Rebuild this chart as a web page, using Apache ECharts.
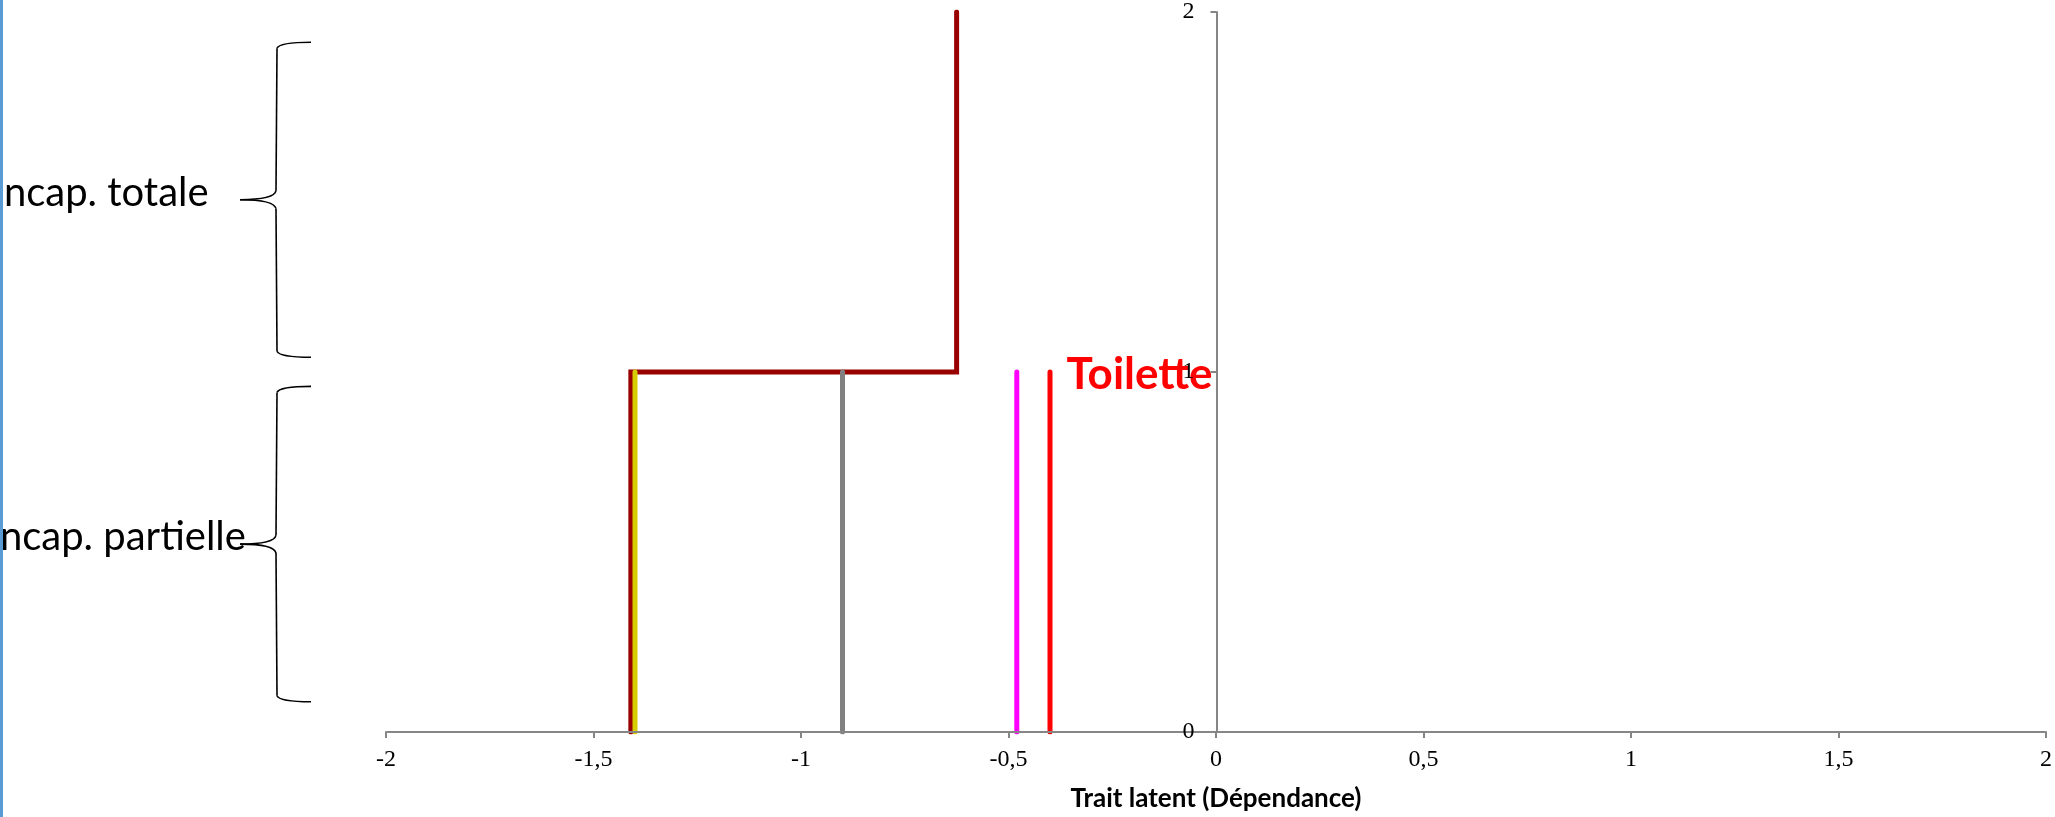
<!DOCTYPE html>
<html>
<head>
<meta charset="utf-8">
<script src="https://cdn.jsdelivr.net/npm/echarts@6/dist/echarts.min.js"></script>
<style>
  html, body { margin: 0; padding: 0; background: #fff; }
  #chart { width: 2055px; height: 817px; }
</style>
</head>
<body>
<div id="chart"></div>
<script>
// Step curve of the dependence scale (threshold path)
const stepX = [-1.41, -1.41, -0.625, -0.625];
const stepY = [0, 1, 1, 2];

// Item thresholds drawn as vertical bars from 0 to 1
const thresholdX = [-1.40, -0.90, -0.48, -0.40];
const thresholdTop = [1, 1, 1, 1];
const thresholdLabels = ['', '', '', 'Toilette'];
const thresholdColors = ['#D6CE00', '#808080', '#FF00FF', '#FF0000'];

// Axis tick labels
const xTickLabels = ['-2', '-1,5', '-1', '-0,5', '0', '0,5', '1', '1,5', '2'];
const yTickLabels = ['0', '1', '2'];

// Category braces on the left: [top, bottom] in y-axis units, with their texts
const braceRanges = [[1.916, 1.041], [0.960, 0.084]];
const braceTexts = ['Incap. totale', 'Incap. partielle'];

const chart = echarts.init(document.getElementById('chart'), null, { renderer: 'canvas' });

const axisGray = '#868686';
const tickFont = '"Liberation Serif", "Times New Roman", serif';
const gridLeft = 386, gridRight = 8;
const gridWidth = 2055 - gridLeft - gridRight;

const series = [{
  type: 'line',
  data: stepX.map((x, i) => [x, stepY[i]]),
  showSymbol: false,
  lineStyle: { color: '#990000', width: 5, cap: 'round', join: 'miter' },
  silent: true,
  z: 2
}];

thresholdX.forEach((x, i) => {
  const top = { value: [x, thresholdTop[i]] };
  if (thresholdLabels[i]) {
    top.label = {
      show: true,
      formatter: thresholdLabels[i],
      position: 'right',
      distance: 16,
      offset: [0, 3],
      color: thresholdColors[i],
      fontFamily: 'Lato, "Liberation Sans", sans-serif',
      fontWeight: 'bold',
      fontSize: 44
    };
  }
  series.push({
    type: 'line',
    data: [[x, 0], top],
    showSymbol: true,
    symbol: 'circle',
    symbolSize: 1,
    itemStyle: { color: thresholdColors[i] },
    label: { show: false },
    lineStyle: { color: thresholdColors[i], width: 5, cap: 'round' },
    silent: true,
    z: 3
  });
});

const option = {
  animation: false,
  backgroundColor: '#fff',
  grid: { left: gridLeft, right: gridRight, top: 12, bottom: 85, containLabel: false },
  xAxis: {
    type: 'value',
    min: -2, max: 2, interval: 0.5,
    name: 'Trait latent (Dépendance)',
    nameLocation: 'middle',
    nameGap: 54,
    nameTextStyle: {
      fontFamily: 'Lato, "Liberation Sans", sans-serif',
      fontWeight: 'bold', fontSize: 26, color: '#000'
    },
    splitLine: { show: false },
    axisLine: { show: true, lineStyle: { color: axisGray, width: 2 } },
    axisTick: { show: true, length: 6, lineStyle: { color: axisGray, width: 2 } },
    axisLabel: {
      margin: 16,
      fontFamily: tickFont, fontSize: 24, color: '#000',
      formatter: (v, i) => xTickLabels[i]
    },
    z: 10
  },
  yAxis: {
    type: 'value',
    min: 0, max: 2, interval: 1,
    // the vertical axis sits at x = 0, in the middle of the grid
    offset: -gridWidth / 2,
    zlevel: 1,
    splitLine: { show: false },
    axisLine: { show: true, onZero: false, lineStyle: { color: axisGray, width: 2 } },
    axisTick: { show: true, length: 6, lineStyle: { color: axisGray, width: 2 } },
    axisLabel: {
      margin: 22,
      fontFamily: tickFont, fontSize: 24, color: '#000',
      formatter: (v, i) => yTickLabels[i]
    },
    z: 10
  },
  series: series
};

chart.setOption(option);

// Braces and their category texts, placed from the y-axis scale
const stemX = 276, endX = 311, pointX = 240;
const braceStyle = { stroke: '#000', fill: null, lineWidth: 1.6 };
const graphics = [{
  type: 'rect',
  shape: { x: 0, y: 0, width: 3, height: 817 },
  style: { fill: '#5B9BD5' },
  z: 20
}];

function curve(x1, y1, c1x, c1y, c2x, c2y, x2, y2) {
  return {
    type: 'bezierCurve',
    shape: { x1: x1, y1: y1, cpx1: c1x, cpy1: c1y, cpx2: c2x, cpy2: c2y, x2: x2, y2: y2 },
    style: braceStyle, z: 5
  };
}
function seg(x1, y1, x2, y2) {
  return { type: 'line', shape: { x1: x1, y1: y1, x2: x2, y2: y2 }, style: braceStyle, z: 5 };
}

braceRanges.forEach((r, i) => {
  const t = chart.convertToPixel({ gridIndex: 0 }, [0, r[0]])[1];
  const b = chart.convertToPixel({ gridIndex: 0 }, [0, r[1]])[1];
  const m = (t + b) / 2;
  graphics.push(
    curve(endX, t, endX - 18, t, stemX + 3, t + 1, stemX + 1, t + 6),
    seg(stemX + 1, t + 6, stemX, m - 9),
    curve(stemX, m - 9, stemX - 1, m - 3, stemX - 14, m, pointX, m),
    curve(pointX, m, stemX - 14, m, stemX - 1, m + 3, stemX, m + 9),
    seg(stemX, m + 9, stemX + 1, b - 6),
    curve(stemX + 1, b - 6, stemX + 3, b - 1, endX - 18, b, endX, b)
  );
  graphics.push({
    type: 'text',
    x: i === 0 ? -7 : -11,
    y: m - 7,
    style: {
      text: braceTexts[i],
      font: '40px Lato, "Liberation Sans", sans-serif',
      fill: '#000',
      align: 'left',
      verticalAlign: 'middle'
    },
    z: 6
  });
});

chart.setOption({ graphic: { elements: graphics } });
</script>
</body>
</html>
